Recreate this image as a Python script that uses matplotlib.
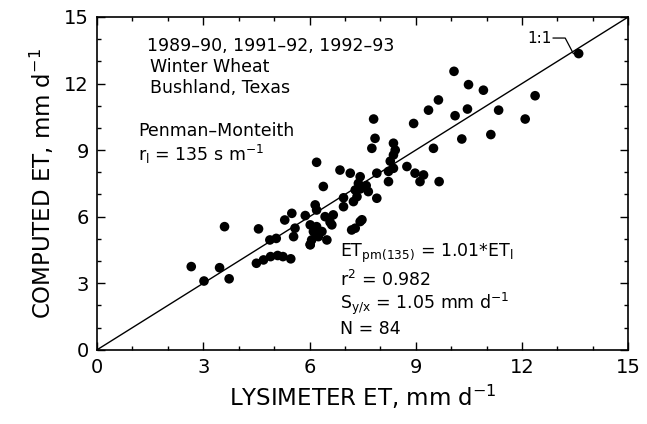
import matplotlib
matplotlib.use("Agg")
import matplotlib.pyplot as plt
from matplotlib.ticker import MultipleLocator

plt.rcParams["font.family"] = ["DejaVu Sans"]
plt.rcParams["mathtext.default"] = "regular"

# Daily ET, lysimeter vs Penman-Monteith (mm/d)
lysimeter_et = [
    2.66, 3.02, 3.46, 3.73, 3.60, 4.56, 4.50, 4.70, 4.90, 5.10,
    5.25, 5.47, 4.88, 5.06, 5.50, 5.59, 5.55, 5.88, 6.02, 6.16,
    6.20, 6.02, 6.11, 6.35, 6.06, 6.49, 6.25, 6.44, 6.67, 6.63,
    6.20, 6.39, 6.96, 6.96, 7.19, 7.43, 6.86, 7.15, 7.43, 7.38,
    7.43, 7.66, 7.90, 7.90, 8.23, 8.23, 7.48, 7.29, 7.81, 7.85,
    7.76, 8.37, 8.42, 8.37, 8.28, 8.37, 8.75, 8.98, 9.22, 9.12,
    9.66, 9.50, 8.94, 9.36, 9.64, 10.08, 10.49, 10.91, 12.37, 10.11,
    10.46, 11.34, 12.09, 10.30, 11.12, 13.60, 7.29, 7.34, 7.24, 6.20,
    6.02, 5.30, 6.58, 7.60,
]
computed_et = [
    3.75, 3.10, 3.70, 3.20, 5.55, 5.45, 3.90, 4.05, 4.20, 4.25,
    4.20, 4.10, 4.95, 5.02, 6.15, 5.48, 5.10, 6.05, 4.75, 6.53,
    6.30, 5.63, 5.33, 5.33, 4.95, 4.95, 5.10, 6.00, 6.08, 5.63,
    8.45, 7.36, 6.85, 6.45, 5.40, 5.78, 8.10, 7.96, 7.80, 7.50,
    7.25, 7.13, 6.83, 7.96, 8.04, 7.58, 5.86, 5.48, 10.40, 9.53,
    9.08, 9.31, 9.00, 8.78, 8.50, 8.18, 8.26, 7.96, 7.88, 7.58,
    7.58, 9.08, 10.20, 10.80, 11.26, 12.55, 11.95, 11.70, 11.45, 10.55,
    10.85, 10.80, 10.40, 9.50, 9.70, 13.35, 7.20, 6.90, 6.68, 5.55,
    4.73, 5.85, 5.75, 7.40,
]
one_to_one = [0, 15]

fig = plt.figure(figsize=(6.47, 4.24), dpi=100)
ax = fig.add_axes([0.150, 0.175, 0.821, 0.785])

ax.plot(one_to_one, one_to_one, color="black", lw=1.0)
ax.scatter(lysimeter_et, computed_et, s=48, color="black", edgecolors="none", zorder=3)

ax.set_xlim(0, 15)
ax.set_ylim(0, 15)
ax.xaxis.set_major_locator(MultipleLocator(3))
ax.yaxis.set_major_locator(MultipleLocator(3))
ax.xaxis.set_minor_locator(MultipleLocator(1))
ax.yaxis.set_minor_locator(MultipleLocator(1))
ax.tick_params(which="both", direction="in", top=True, right=True, width=1.0)
ax.tick_params(which="major", length=6, labelsize=14, pad=6)
ax.tick_params(which="minor", length=3)
for sp in ax.spines.values():
    sp.set_linewidth(1.2)

ax.set_xlabel("LYSIMETER ET, mm d$^{-1}$", fontsize=16.5, labelpad=4)
ax.set_ylabel("COMPUTED ET, mm d$^{-1}$", fontsize=16.5, labelpad=6)

# annotation blocks
fs = 12.5
ax.text(1.41, 13.7, "1989\u201390, 1991\u201392, 1992\u201393", fontsize=fs, va="center")
ax.text(1.50, 12.75, "Winter Wheat", fontsize=fs, va="center")
ax.text(1.50, 11.8, "Bushland, Texas", fontsize=fs, va="center")
ax.text(1.16, 9.85, "Penman\u2013Monteith", fontsize=fs, va="center")
ax.text(1.16, 8.8, "r$_l$ = 135 s m$^{-1}$", fontsize=fs, va="center")

ax.text(6.86, 4.35, "ET$_{pm(135)}$ = 1.01*ET$_l$", fontsize=fs, va="center")
ax.text(6.86, 3.15, "r$^2$ = 0.982", fontsize=fs, va="center")
ax.text(6.86, 2.05, "S$_{y/x}$ = 1.05 mm d$^{-1}$", fontsize=fs, va="center")
ax.text(6.86, 0.95, "N = 84", fontsize=fs, va="center")

# 1:1 label with leader
ax.text(12.15, 14.05, "1:1", fontsize=11, va="center")
ax.plot([12.88, 13.22, 13.45], [14.05, 14.05, 13.35], color="black", lw=0.9)

fig.savefig("out.png", dpi=100)
